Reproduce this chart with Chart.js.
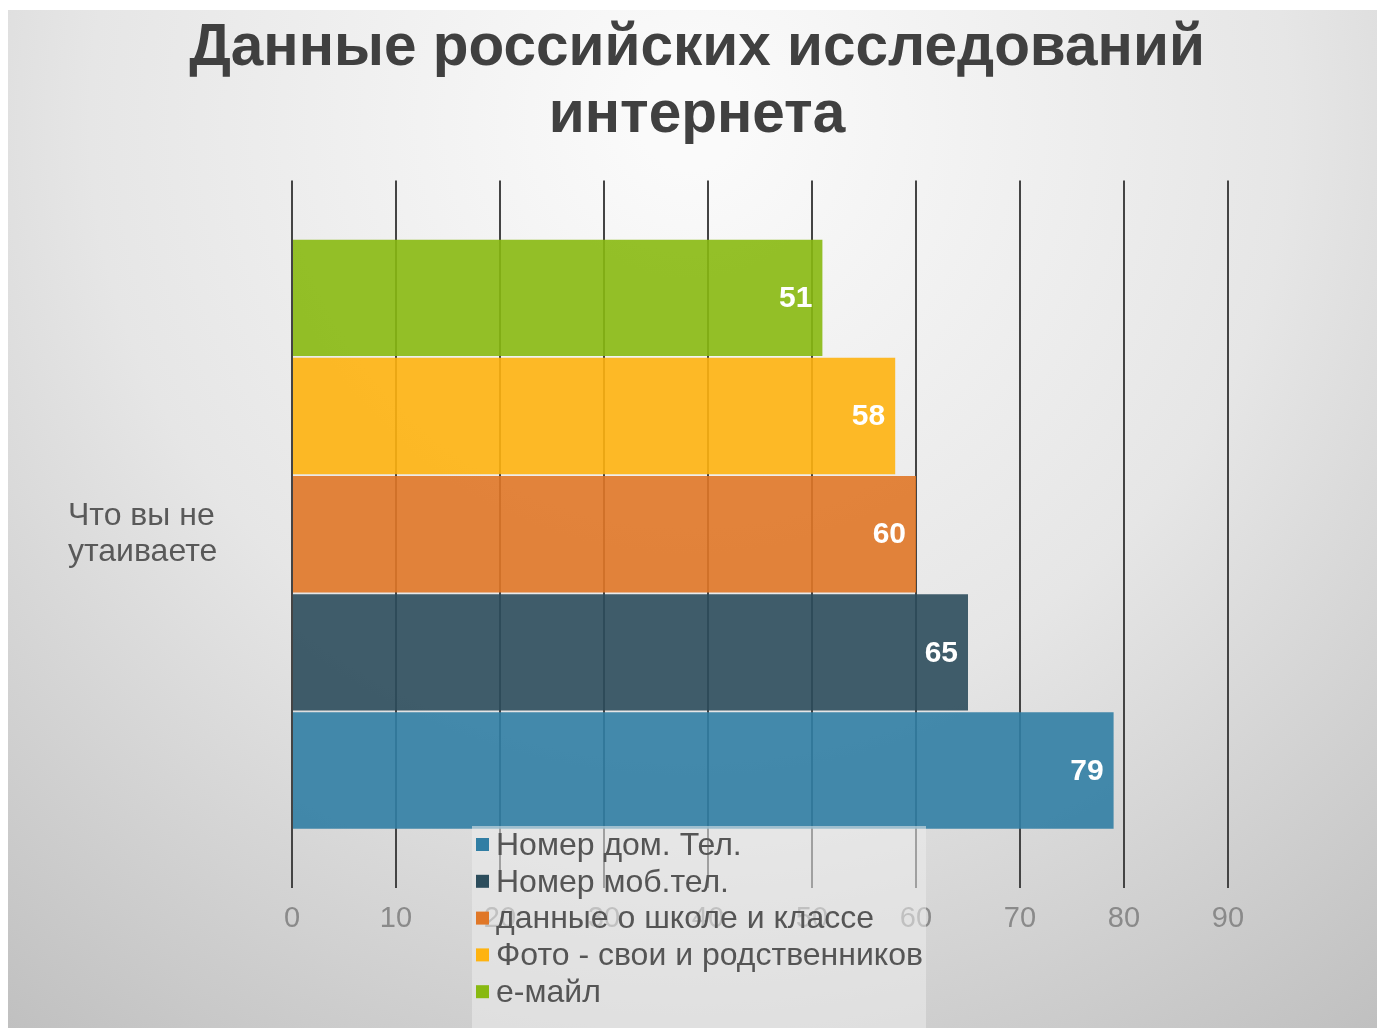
<!DOCTYPE html>
<html>
<head>
<meta charset="utf-8">
<script src="https://cdn.jsdelivr.net/npm/chart.js@4"></script>
<style>
  html, body { margin: 0; padding: 0; background: #fff; }
  #chart { display: block; }
</style>
</head>
<body>
<canvas id="chart" width="1377" height="1028"></canvas>
<script>
// data
const titleLines = ['Данные российских исследований', 'интернета'];
const categories = [['Что вы не', 'утаиваете']];
const seriesLabels = ['e-майл', 'Фото - свои и родственников', 'данные о школе и классе', 'Номер моб.тел.', 'Номер дом. Тел.'];
const seriesValues = [51, 58, 60, 65, 79];
const seriesColors = ['#88b911', '#feb310', '#e07727', '#2c4d5c', '#317ea4'];
const xTicks = [0, 10, 20, 30, 40, 50, 60, 70, 80, 90];

const FONT = '"Liberation Sans", Arial, sans-serif';

function withAlpha(hex, a) {
  const n = parseInt(hex.slice(1), 16);
  return `rgba(${n >> 16},${(n >> 8) & 255},${n & 255},${a})`;
}

// фон слайда
const backgroundPlugin = {
  id: 'slideBg',
  beforeDraw(chart) {
    const c = chart.ctx;
    c.save();
    c.fillStyle = '#ffffff';
    c.fillRect(0, 0, chart.width, chart.height);
    const g = c.createRadialGradient(690, 120, 50, 690, 120, 1150);
    g.addColorStop(0, '#fafafa');
    g.addColorStop(0.5, '#e6e6e6');
    g.addColorStop(1, '#bfbfbf');
    c.fillStyle = g;
    c.fillRect(8, 10, chart.width - 8, chart.height - 10);
    c.restore();
  }
};

// подписи значений внутри столбцов
const valueLabels = {
  id: 'valueLabels',
  afterDatasetsDraw(chart) {
    const c = chart.ctx;
    c.save();
    c.font = 'bold 30px ' + FONT;
    c.fillStyle = '#ffffff';
    c.textAlign = 'right';
    c.textBaseline = 'middle';
    chart.data.datasets.forEach((ds, i) => {
      chart.getDatasetMeta(i).data.forEach((bar, j) => {
        c.fillText(String(ds.data[j]), bar.x - 10, bar.y + 1);
      });
    });
    c.restore();
  }
};

// легенда поверх оси, как в оригинале
const overlayLegend = {
  id: 'overlayLegend',
  afterDraw(chart) {
    const c = chart.ctx;
    const left = 472, top = 826;
    c.save();
    c.fillStyle = 'rgba(236,236,236,0.55)';
    c.fillRect(left, top, 454, chart.height - top);
    c.font = '32px ' + FONT;
    c.textBaseline = 'middle';
    c.textAlign = 'left';
    seriesLabels.slice().reverse().forEach((label, i) => {
      const y = 845 + i * 36.8;
      c.fillStyle = seriesColors[seriesLabels.length - 1 - i];
      c.fillRect(left + 4, y - 7, 13, 13);
      c.fillStyle = '#555555';
      c.fillText(label, left + 24, y + 1);
    });
    c.restore();
  }
};

const datasets = seriesLabels.map((label, i) => ({
  label: label,
  data: [seriesValues[i]],
  backgroundColor: withAlpha(seriesColors[i], 0.9),
  borderWidth: 0,
  barPercentage: 0.985,
  categoryPercentage: 0.835
}));

new Chart(document.getElementById('chart'), {
  type: 'bar',
  data: { labels: categories, datasets: datasets },
  options: {
    indexAxis: 'y',
    responsive: false,
    animation: false,
    devicePixelRatio: 1,
    layout: { padding: { left: 68, right: 51, top: 0, bottom: 0 } },
    scales: {
      x: {
        min: 0,
        max: 90,
        afterBuildTicks(scale) { scale.ticks = xTicks.map(v => ({ value: v })); },
        afterFit(scale) { scale.height = 1028 - 888; },
        ticks: { color: '#8a8a8a', font: { family: FONT, size: 29 }, padding: 14 },
        grid: { color: '#444444', lineWidth: 2, drawTicks: false },
        border: { display: false }
      },
      y: {
        afterFit(scale) { scale.width = 292 - 68; },
        ticks: {
          crossAlign: 'far',
          color: '#595959',
          font: { family: FONT, size: 32, lineHeight: 1.125 }
        },
        grid: { display: false },
        border: { display: false }
      },
      // пустое место справа, чтобы заголовок стоял по центру слайда
      yRight: {
        type: 'category',
        position: 'right',
        afterFit(scale) { scale.width = 98; },
        ticks: { display: false },
        grid: { display: false },
        border: { display: false }
      }
    },
    plugins: {
      legend: { display: false },
      tooltip: { enabled: false },
      title: {
        display: true,
        text: titleLines,
        color: '#404040',
        font: { family: FONT, size: 58.5, weight: 'bold', lineHeight: 1.14 },
        padding: { top: 16, bottom: 31 }
      }
    }
  },
  plugins: [backgroundPlugin, valueLabels, overlayLegend]
});
</script>
</body>
</html>
